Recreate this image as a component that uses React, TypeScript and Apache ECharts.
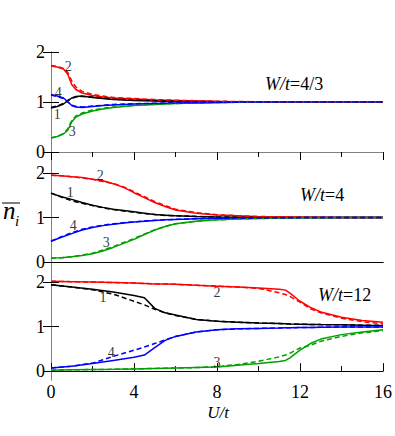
import React, { useEffect, useRef } from "react";
import * as echarts from "echarts";

// ---- Panel A: W/t = 4/3 ----
const U_A = [0, 0.3, 0.6, 0.8, 1.0, 1.2, 1.5, 2, 2.5, 3, 4, 5, 6, 8, 10, 12, 14, 16];
const A_n1 = [0.88, 0.91, 0.96, 1.02, 1.08, 1.11, 1.12, 1.09, 1.07, 1.05, 1.03, 1.02, 1.01, 1.005, 1.0, 1.0, 1.0, 1.0];
const A_n1d = [0.89, 0.92, 0.97, 1.03, 1.07, 1.10, 1.11, 1.10, 1.08, 1.06, 1.04, 1.03, 1.02, 1.01, 1.0, 1.0, 1.0, 1.0];
const A_n2 = [1.72, 1.70, 1.66, 1.56, 1.35, 1.25, 1.18, 1.13, 1.10, 1.08, 1.06, 1.04, 1.03, 1.01, 1.005, 1.0, 1.0, 1.0];
const A_n2d = [1.73, 1.71, 1.67, 1.60, 1.42, 1.30, 1.21, 1.15, 1.12, 1.09, 1.07, 1.05, 1.035, 1.015, 1.005, 1.0, 1.0, 1.0];
const A_n3 = [0.28, 0.31, 0.36, 0.43, 0.60, 0.70, 0.76, 0.82, 0.86, 0.89, 0.93, 0.95, 0.97, 0.99, 1.0, 1.0, 1.0, 1.0];
const A_n3d = [0.28, 0.31, 0.37, 0.46, 0.63, 0.72, 0.78, 0.84, 0.875, 0.90, 0.935, 0.955, 0.97, 0.99, 1.0, 1.0, 1.0, 1.0];
const A_n4 = [1.15, 1.12, 1.08, 1.01, 0.93, 0.90, 0.89, 0.91, 0.93, 0.94, 0.96, 0.97, 0.98, 0.99, 1.0, 1.0, 1.0, 1.0];
const A_n4d = [1.14, 1.11, 1.07, 1.00, 0.94, 0.91, 0.90, 0.92, 0.935, 0.95, 0.965, 0.975, 0.985, 0.995, 1.0, 1.0, 1.0, 1.0];

// ---- Panel B: W/t = 4 ----
const U_B = [0, 0.5, 1, 1.5, 2, 2.5, 3, 3.5, 4, 4.5, 5, 5.5, 6, 7, 8, 9, 10, 12, 14, 16];
const B_n1 = [1.55, 1.47, 1.41, 1.34, 1.28, 1.23, 1.19, 1.16, 1.13, 1.10, 1.07, 1.055, 1.04, 1.025, 1.015, 1.01, 1.005, 1.0, 1.0, 1.0];
const B_n1d = [1.55, 1.46, 1.38, 1.32, 1.27, 1.22, 1.18, 1.15, 1.12, 1.09, 1.07, 1.05, 1.04, 1.025, 1.015, 1.01, 1.005, 1.0, 1.0, 1.0];
const B_n2 = [1.95, 1.94, 1.92, 1.90, 1.86, 1.83, 1.76, 1.68, 1.56, 1.45, 1.34, 1.25, 1.17, 1.10, 1.06, 1.04, 1.02, 1.01, 1.0, 1.0];
const B_n2d = [1.95, 1.94, 1.92, 1.89, 1.86, 1.81, 1.77, 1.69, 1.58, 1.47, 1.36, 1.27, 1.19, 1.11, 1.065, 1.04, 1.025, 1.01, 1.0, 1.0];
const B_n3 = [0.09, 0.10, 0.12, 0.15, 0.19, 0.25, 0.33, 0.42, 0.51, 0.62, 0.72, 0.80, 0.86, 0.92, 0.95, 0.97, 0.98, 0.995, 1.0, 1.0];
const B_n3d = [0.09, 0.10, 0.12, 0.16, 0.20, 0.27, 0.35, 0.44, 0.53, 0.63, 0.73, 0.80, 0.86, 0.92, 0.95, 0.97, 0.98, 0.995, 1.0, 1.0];
const B_n4 = [0.47, 0.56, 0.64, 0.72, 0.78, 0.82, 0.85, 0.88, 0.90, 0.92, 0.935, 0.95, 0.96, 0.975, 0.985, 0.99, 0.995, 1.0, 1.0, 1.0];
const B_n4d = [0.47, 0.57, 0.66, 0.74, 0.79, 0.83, 0.86, 0.885, 0.905, 0.925, 0.94, 0.95, 0.96, 0.975, 0.985, 0.99, 0.995, 1.0, 1.0, 1.0];

// ---- Panel C: W/t = 12 ----
const U_C = [0, 1, 2, 3, 4, 4.5, 5, 5.5, 6, 7, 8, 9, 10, 11, 11.3, 11.5, 12, 12.5, 13, 14, 15, 16];
const C_n1 = [1.94, 1.89, 1.84, 1.78, 1.70, 1.65, 1.41, 1.31, 1.26, 1.16, 1.12, 1.10, 1.08, 1.07, 1.065, 1.06, 1.055, 1.05, 1.045, 1.04, 1.03, 1.02];
const C_n1d = [1.94, 1.89, 1.83, 1.73, 1.57, 1.49, 1.39, 1.31, 1.25, 1.16, 1.12, 1.10, 1.08, 1.07, 1.065, 1.06, 1.055, 1.05, 1.045, 1.04, 1.03, 1.03];
const C_n2 = [2.02, 2.01, 2.0, 1.99, 1.98, 1.97, 1.96, 1.955, 1.95, 1.93, 1.91, 1.89, 1.87, 1.84, 1.82, 1.76, 1.57, 1.43, 1.33, 1.21, 1.14, 1.10];
const C_n2d = [2.02, 2.01, 2.0, 1.99, 1.98, 1.97, 1.96, 1.955, 1.95, 1.93, 1.91, 1.89, 1.86, 1.76, 1.72, 1.68, 1.55, 1.40, 1.31, 1.19, 1.11, 1.06];
const C_n3 = [0.02, 0.03, 0.035, 0.04, 0.05, 0.055, 0.06, 0.065, 0.07, 0.08, 0.09, 0.13, 0.17, 0.215, 0.24, 0.29, 0.47, 0.62, 0.72, 0.82, 0.88, 0.93];
const C_n3d = [0.02, 0.03, 0.035, 0.04, 0.05, 0.055, 0.06, 0.065, 0.07, 0.08, 0.10, 0.15, 0.22, 0.32, 0.36, 0.40, 0.52, 0.58, 0.67, 0.78, 0.86, 0.91];
const C_n4 = [0.07, 0.11, 0.17, 0.24, 0.31, 0.36, 0.53, 0.69, 0.78, 0.88, 0.93, 0.95, 0.96, 0.97, 0.975, 0.975, 0.98, 0.98, 0.985, 0.99, 0.99, 0.99];
const C_n4d = [0.07, 0.11, 0.18, 0.33, 0.47, 0.54, 0.62, 0.70, 0.78, 0.88, 0.93, 0.95, 0.96, 0.97, 0.975, 0.975, 0.98, 0.98, 0.985, 0.99, 0.99, 0.99];

// curve number labels: [U, n, text]
const A_labels: [number, number, string][] = [[0.83, 1.71, "2"], [0.35, 1.2, "4"], [0.3, 0.75, "1"], [1.02, 0.41, "3"]];
const B_labels: [number, number, string][] = [[2.37, 1.95, "2"], [0.93, 1.57, "1"], [1.07, 0.82, "4"], [2.66, 0.44, "3"]];
const C_labels: [number, number, string][] = [[2.51, 1.66, "1"], [2.9, 0.42, "4"], [8.0, 1.77, "2"], [8.0, 0.2, "3"]];

const panelTitles = ["4/3", "4", "12"];
const yTicks = [0, 1, 2];
const xRange = [0, 16];

const COL = { n1: "#000000", n2: "#ff0000", n3: "#00a000", n4: "#0000ff" };
const SERIF = "Liberation Serif";
const GRAY = "#808080";

export default function App() {
  const ref = useRef<HTMLDivElement>(null);
  useEffect(() => {
    if (!ref.current) return;
    const chart = echarts.init(ref.current, undefined, { renderer: "svg" });

    const grids = [
      { left: 51, top: 52, width: 332, height: 110 },
      { left: 51, top: 162, width: 332, height: 109 },
      { left: 51, top: 271, width: 332, height: 109 },
    ];
    const yMax = [2.0, 2.25, 2.25];

    const xAxis: any[] = [];
    const yAxis: any[] = [];
    grids.forEach((_, i) => {
      xAxis.push({
        gridIndex: i, type: "value", position: "bottom", min: xRange[0], max: xRange[1], interval: 4,
        axisLine: { show: true, lineStyle: { color: i === 2 ? GRAY : "#000", width: 1 } },
        axisTick: { show: i === 2, inside: true, length: 8, lineStyle: { color: "#000" } },
        minorTick: { show: i === 2, splitNumber: 2, length: 5, lineStyle: { color: "#000" } },
        axisLabel: { show: i === 2, fontFamily: SERIF, fontSize: 18, color: "#000", margin: 3 },
        splitLine: { show: false },
      });
      xAxis.push({
        gridIndex: i, type: "value", position: "top", min: xRange[0], max: xRange[1], interval: 4,
        axisLine: { show: true, lineStyle: { color: i === 0 ? GRAY : "#000", width: 1 } },
        axisTick: { show: i === 0, inside: true, length: 8, lineStyle: { color: "#000" } },
        minorTick: { show: i === 0, splitNumber: 2, length: 5, lineStyle: { color: "#000" } },
        axisLabel: { show: false },
        splitLine: { show: false },
      });
      yAxis.push({
        gridIndex: i, type: "value", position: "left", min: -0.2, max: yMax[i],
        axisLine: { show: true, lineStyle: { color: GRAY, width: 1 } },
        axisTick: { show: true, inside: true, length: 8, customValues: yTicks, lineStyle: { color: "#000" } },
        axisLabel: { show: true, customValues: yTicks, fontFamily: SERIF, fontSize: 18, color: "#000", margin: 6 },
        splitLine: { show: false },
      });
      yAxis.push({
        gridIndex: i, type: "value", position: "right", min: -0.2, max: yMax[i],
        axisLine: { show: true, lineStyle: { color: GRAY, width: 1 } },
        axisTick: { show: true, inside: true, length: 8, customValues: yTicks, lineStyle: { color: "#000" } },
        axisLabel: { show: false },
        splitLine: { show: false },
      });
    });

    const mk = (g: number, U: number[], vals: number[], color: string, dashed: boolean) => ({
      type: "line",
      xAxisIndex: 2 * g,
      yAxisIndex: 2 * g,
      data: U.map((u, k) => [u, vals[k]]),
      showSymbol: false,
      symbol: "none",
      lineStyle: { color, width: 1.5, type: dashed ? [5, 3] : "solid" },
      silent: true,
      z: dashed ? 3 : 2,
    });

    const panels = [
      { U: U_A, s: [A_n1, A_n2, A_n3, A_n4], d: [A_n1d, A_n2d, A_n3d, A_n4d], labels: A_labels },
      { U: U_B, s: [B_n1, B_n2, B_n3, B_n4], d: [B_n1d, B_n2d, B_n3d, B_n4d], labels: B_labels },
      { U: U_C, s: [C_n1, C_n2, C_n3, C_n4], d: [C_n1d, C_n2d, C_n3d, C_n4d], labels: C_labels },
    ];
    const colors = [COL.n1, COL.n2, COL.n3, COL.n4];

    const series: any[] = [];
    panels.forEach((p, g) => {
      p.s.forEach((v, k) => series.push(mk(g, p.U, v, colors[k], false)));
      p.d.forEach((v, k) => series.push(mk(g, p.U, v, colors[k], true)));
      series.push({
        type: "scatter",
        xAxisIndex: 2 * g,
        yAxisIndex: 2 * g,
        symbolSize: 0,
        silent: true,
        z: 5,
        itemStyle: { color: "#000" },
        data: p.labels.map((l) => ({ value: [l[0], l[1]], name: l[2] })),
        label: {
          show: true, position: "inside", formatter: (prm: any) => prm.name,
          fontFamily: SERIF, fontSize: 14, color: "#000",
          textBorderWidth: 0, textBorderColor: "transparent",
        },
      });
    });

    const titleY = [84, 195, 295];
    const titleX = [265, 300, 318];
    const graphic: any[] = panelTitles.map((t, i) => ({
      type: "text",
      x: titleX[i],
      y: titleY[i],
      silent: true,
      style: {
        text: `{i|W/t}{n|=${t}}`,
        textVerticalAlign: "middle",
        rich: {
          i: { fontFamily: SERIF, fontSize: 18, fontStyle: "italic", fill: "#000" },
          n: { fontFamily: SERIF, fontSize: 18, fill: "#000" },
        },
      },
    }));
    graphic.push({
      type: "text", x: 218, y: 412, silent: true,
      style: { text: "U/t", fontFamily: SERIF, fontSize: 17, fontStyle: "italic", fill: "#000", textAlign: "center", textVerticalAlign: "middle" },
    });
    graphic.push({
      type: "text", x: 3, y: 210, silent: true,
      style: { text: "n", fontFamily: SERIF, fontSize: 25, fontStyle: "italic", fill: "#000", textAlign: "left", textVerticalAlign: "middle" },
    });
    graphic.push({
      type: "line", silent: true,
      shape: { x1: 2, y1: 203, x2: 20, y2: 203 },
      style: { stroke: "#000", lineWidth: 1 },
    });
    graphic.push({
      type: "text", x: 15, y: 221, silent: true,
      style: { text: "i", fontFamily: SERIF, fontSize: 15, fontStyle: "italic", fill: "#000", textAlign: "left", textVerticalAlign: "middle" },
    });

    chart.setOption({
      animation: false,
      backgroundColor: "#fff",
      grid: grids,
      xAxis,
      yAxis,
      series,
      graphic,
    });
    return () => chart.dispose();
  }, []);
  return (
    <div
      ref={ref}
      style={{ position: "absolute", left: 0, top: 0, width: 395, height: 436 }}
    />
  );
}
